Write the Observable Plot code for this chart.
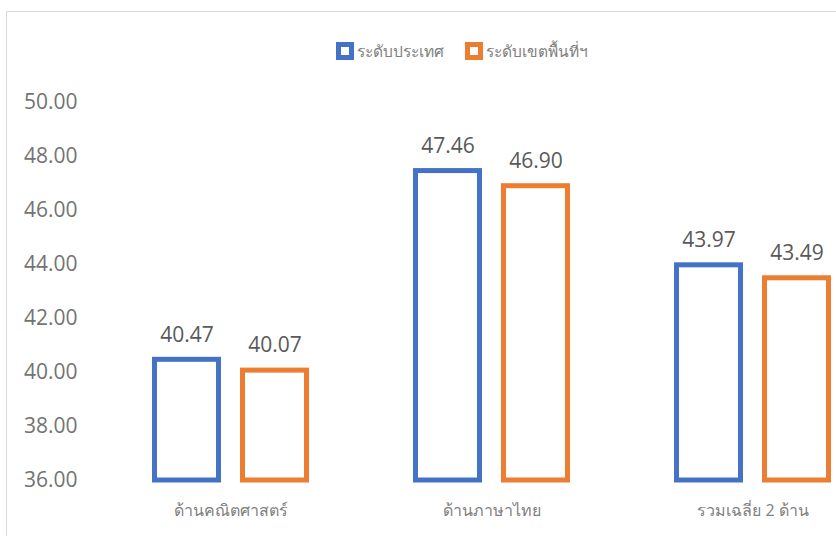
<!DOCTYPE html>
<html>
<head>
<meta charset="utf-8">
<script src="https://cdn.jsdelivr.net/npm/d3@7"></script>
<script src="https://cdn.jsdelivr.net/npm/@observablehq/plot@0.6"></script>
<style>
  html, body { margin: 0; padding: 0; background: #fff; }
  body { width: 836px; height: 536px; overflow: hidden; position: relative;
         font-family: "Open Sans", "Noto Sans", "DejaVu Sans", sans-serif; }
  #frame { position: absolute; left: 6px; top: 11px; width: 2000px; height: 2000px;
           border-left: 1px solid #d9d9d9; border-top: 1px solid #d9d9d9; }
  #legend { position: absolute; left: 336px; top: 41px; display: flex; align-items: center;
            font-size: 15.5px; color: #808080; line-height: 20px; }
  .item { display: flex; align-items: center; margin-right: 21px; }
  .sw { width: 8px; height: 8px; background: #fff; border: 5px solid; margin-right: 3px; }
  #chart { position: absolute; left: 0; top: 70px; }
</style>
</head>
<body>
<div id="frame"></div>
<div id="legend"></div>
<div id="chart"></div>
<script>
const categories = ["ด้านคณิตศาสตร์", "ด้านภาษาไทย", "รวมเฉลี่ย 2 ด้าน"];
const series = ["ระดับประเทศ", "ระดับเขตพื้นที่ฯ"];
const national = [40.47, 47.46, 43.97];
const regional = [40.07, 46.90, 43.49];
const yTicks = [36, 38, 40, 42, 44, 46, 48, 50];
const colors = ["#4472C4", "#ED7D31"];

const values = [national, regional];
const data = series.map((s, si) => categories.map((c, ci) => ({cat: c, series: s, value: values[si][ci]})));

// legend
const legend = document.getElementById("legend");
series.forEach((s, i) => {
  const it = document.createElement("div");
  it.className = "item";
  const sw = document.createElement("div");
  sw.className = "sw";
  sw.style.borderColor = colors[i];
  const t = document.createElement("span");
  t.textContent = s;
  it.appendChild(sw); it.appendChild(t);
  legend.appendChild(it);
});

const yMin = yTicks[0];
const offsets = [-44, 44];
const marks = [];
data.forEach((d, i) => {
  marks.push(Plot.barY(d, {
    x: "cat", y1: () => yMin, y2: "value",
    dx: offsets[i], insetLeft: 98.5, insetRight: 98.5,
    fill: "none", stroke: colors[i], strokeWidth: 5
  }));
  marks.push(Plot.text(d, {
    x: "cat", y: "value", text: v => v.value.toFixed(2),
    dx: offsets[i], dy: -25, fontSize: 21, fill: "#595959"
  }));
});

const plot = Plot.plot({
  width: 836,
  height: 466,
  marginLeft: 100,
  marginRight: 0,
  marginTop: 32,
  marginBottom: 56,
  style: {fontFamily: '"Open Sans", "Noto Sans", "DejaVu Sans", sans-serif', overflow: "visible"},
  x: {domain: categories, range: [100, 883], padding: 0},
  y: {domain: [yTicks[0], yTicks[yTicks.length - 1]]},
  marks: [
    Plot.axisY({ticks: yTicks, tickFormat: d => d.toFixed(2), tickSize: 0, tickPadding: 23,
                fontSize: 21, fill: "#737373", label: null}),
    Plot.axisX({tickSize: 0, tickPadding: 24, fontSize: 16, fill: "#808080", label: null}),
    ...marks
  ]
});
document.getElementById("chart").appendChild(plot);
</script>
</body>
</html>
